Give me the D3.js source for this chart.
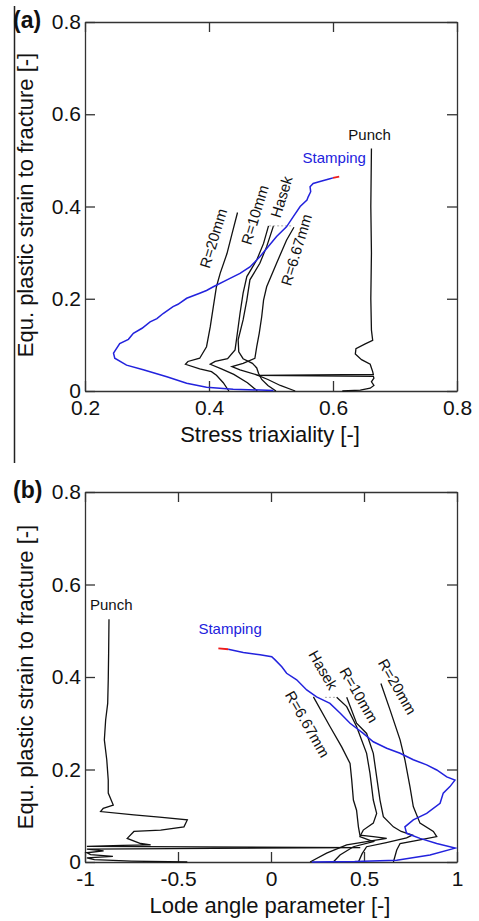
<!DOCTYPE html>
<html>
<head>
<meta charset="utf-8">
<script src="https://d3js.org/d3.v7.min.js"></script>
<style>
  body { margin: 0; background: #fff; }
  svg { display: block; font-family: "Liberation Sans", Arial, sans-serif; }
  .tick text { font-size: 21px; fill: #111; }
  .domain, .tick line { stroke: #333; stroke-width: 1.3px; }
  .curve { fill: none; stroke: #111; stroke-width: 1.3px; }
</style>
</head>
<body>
<svg id="chart" width="479" height="921"></svg>
<script>
// tick values
var strainTicks = [0, 0.2, 0.4, 0.6, 0.8];
var triaxTicks = [0.2, 0.4, 0.6, 0.8];
var lodeTicks = [-1, -0.5, 0, 0.5, 1];

// panel (a): [stress triaxiality, strain]
var stampingTriax = [[0.504,0.001],[0.439,0.004],[0.396,0.008],[0.364,0.017],[0.332,0.031],[0.294,0.046],
  [0.267,0.056],[0.248,0.071],[0.246,0.082],[0.256,0.103],[0.270,0.112],[0.278,0.125],[0.292,0.136],[0.305,0.150],
  [0.316,0.157],[0.326,0.168],[0.342,0.183],[0.350,0.188],[0.364,0.201],[0.385,0.212],[0.396,0.218],[0.407,0.226],
  [0.429,0.241],[0.450,0.255],[0.466,0.269],[0.482,0.291],[0.493,0.309],[0.509,0.335],[0.525,0.356],[0.536,0.378],
  [0.547,0.400],[0.558,0.414],[0.560,0.421],[0.564,0.432],[0.563,0.443],[0.568,0.450],[0.579,0.454],[0.595,0.460],[0.600,0.462]];
var stampingEndTriax = [[0.600,0.462],[0.610,0.4646]];
var punchTriax = [[0.615,0.0],[0.644,0.002],[0.660,0.006],[0.666,0.012],[0.662,0.020],[0.666,0.028],[0.665,0.032],
  [0.477,0.034],[0.665,0.036],[0.664,0.042],[0.662,0.050],[0.660,0.058],[0.646,0.068],[0.636,0.080],[0.637,0.092],
  [0.652,0.102],[0.664,0.110],[0.662,0.132],[0.661,0.200],[0.662,0.300],[0.661,0.400],[0.662,0.526]];
var r20Triax = [[0.432,0.0],[0.423,0.018],[0.412,0.034],[0.404,0.042],[0.385,0.048],[0.362,0.058],[0.366,0.064],
  [0.385,0.071],[0.396,0.096],[0.402,0.139],[0.407,0.183],[0.412,0.226],[0.418,0.255],[0.429,0.298],[0.437,0.340],[0.446,0.387]];
var r10Triax = [[0.478,0.0],[0.462,0.018],[0.440,0.036],[0.420,0.048],[0.402,0.058],[0.410,0.064],[0.430,0.070],
  [0.442,0.089],[0.445,0.118],[0.450,0.168],[0.455,0.212],[0.461,0.248],[0.477,0.284],[0.488,0.320],[0.496,0.358]];
var hasekTriax = [[0.508,0.0],[0.495,0.012],[0.485,0.025],[0.480,0.038],[0.477,0.050],[0.470,0.060],[0.455,0.070],
  [0.448,0.085],[0.447,0.111],[0.455,0.154],[0.461,0.197],[0.466,0.241],[0.482,0.277],[0.493,0.313],[0.504,0.358]];
var hasekTopTriax = [[0.497,0.358],[0.533,0.358]];
var r667Triax = [[0.539,0.0],[0.515,0.012],[0.495,0.025],[0.477,0.035],[0.450,0.046],[0.437,0.053],[0.455,0.060],
  [0.474,0.071],[0.477,0.096],[0.481,0.125],[0.485,0.161],[0.488,0.197],[0.493,0.226],[0.509,0.277],[0.525,0.327],[0.537,0.355]];

// panel (b): [Lode angle parameter, strain]
var stampingLode = [[0.22,0.0],[0.45,0.001],[0.676,0.004],[0.855,0.015],[0.99,0.030],[0.891,0.040],[0.801,0.051],
  [0.729,0.062],[0.720,0.076],[0.765,0.091],[0.837,0.105],[0.909,0.127],[0.926,0.149],[0.962,0.163],[0.989,0.177],
  [0.945,0.184],[0.891,0.199],[0.837,0.210],[0.765,0.221],[0.694,0.235],[0.622,0.246],[0.550,0.260],[0.496,0.278],
  [0.425,0.300],[0.371,0.322],[0.317,0.343],[0.245,0.357],[0.192,0.372],[0.138,0.394],[0.084,0.408],[0.058,0.422],
  [0.022,0.437],[0.004,0.444],[-0.059,0.448],[-0.149,0.453],[-0.230,0.460]];
var stampingEndLode = [[-0.230,0.460],[-0.283,0.462]];
var punchLode = [[-0.45,0.0],[-0.75,0.002],[-0.95,0.005],[-0.99,0.009],[-0.85,0.012],[-0.97,0.016],[-0.99,0.020],
  [-0.90,0.024],[-0.99,0.028],[0.48,0.031],[-0.99,0.034],[-0.80,0.036],[-0.647,0.037],[-0.701,0.040],[-0.773,0.051],
  [-0.737,0.066],[-0.593,0.069],[-0.468,0.076],[-0.450,0.091],[-0.600,0.097],[-0.737,0.102],[-0.916,0.109],
  [-0.902,0.116],[-0.848,0.123],[-0.875,0.149],[-0.875,0.177],[-0.883,0.221],[-0.896,0.264],[-0.889,0.307],
  [-0.878,0.343],[-0.875,0.394],[-0.873,0.450],[-0.871,0.525]];
var r20Lode = [[0.658,0.0],[0.676,0.026],[0.694,0.040],[0.801,0.048],[0.891,0.055],[0.873,0.066],[0.801,0.084],
  [0.765,0.120],[0.747,0.163],[0.720,0.221],[0.694,0.264],[0.640,0.329],[0.591,0.386]];
var r10Lode = [[0.47,0.0],[0.49,0.018],[0.514,0.033],[0.62,0.042],[0.729,0.052],[0.76,0.058],[0.70,0.066],
  [0.658,0.076],[0.604,0.098],[0.586,0.134],[0.568,0.184],[0.550,0.235],[0.514,0.278],[0.460,0.300],[0.407,0.356]];
var hasekLode = [[0.335,0.0],[0.371,0.015],[0.443,0.033],[0.550,0.044],[0.478,0.055],[0.496,0.069],[0.550,0.084],
  [0.568,0.105],[0.550,0.134],[0.532,0.192],[0.514,0.235],[0.460,0.293],[0.407,0.336],[0.353,0.356]];
var hasekTopLode = [[0.29,0.356],[0.353,0.356]];
var r667Lode = [[0.210,0.0],[0.299,0.019],[0.407,0.037],[0.514,0.044],[0.622,0.051],[0.550,0.055],[0.478,0.058],
  [0.470,0.076],[0.460,0.112],[0.443,0.134],[0.434,0.177],[0.425,0.213],[0.380,0.249],[0.317,0.293],[0.228,0.357]];

// curve labels: [text, x, strain, angle, colour]
var labelsTriax = [["Punch",0.659,0.544,0,"#111"],["Stamping",0.602,0.494,0,"#2222dd"],
  ["R=20mm",0.407,0.331,-73,"#111"],["R=10mm",0.474,0.382,-73,"#111"],
  ["Hasek",0.517,0.421,-73,"#111"],["R=6.67mm",0.541,0.306,-73,"#111"]];
var labelsLode = [["Punch",-0.859,0.545,0,"#111"],["Stamping",-0.220,0.493,0,"#2222dd"],
  ["Hasek",0.281,0.415,60,"#111"],["R=10mm",0.473,0.361,60,"#111"],
  ["R=20mm",0.679,0.379,60,"#111"],["R=6.67mm",0.196,0.298,60,"#111"]];

var svg = d3.select("#chart");

// thin border line at the left edge of panel (a)
svg.append("line").attr("x1", 14.5).attr("x2", 14.5).attr("y1", 6).attr("y2", 463)
  .attr("stroke", "#222").attr("stroke-width", 1.5);

function drawPanel(p) {
  var x = d3.scaleLinear().domain(p.xDomain).range([85, 457]);
  var y = d3.scaleLinear().domain([0, 0.8]).range([p.bottom, p.top]);
  var g = svg.append("g");
  var fmt = function(d) { return String(d); };

  g.append("g").attr("transform", "translate(0," + p.bottom + ")")
    .call(d3.axisBottom(x).tickValues(p.xTicks).tickFormat(fmt).tickSizeInner(-10).tickSizeOuter(0).tickPadding(9));
  g.append("g").attr("transform", "translate(0," + p.top + ")")
    .call(d3.axisTop(x).tickValues(p.xTicks).tickFormat("").tickSizeInner(-10).tickSizeOuter(0));
  g.append("g").attr("transform", "translate(85,0)")
    .call(d3.axisLeft(y).tickValues(strainTicks).tickFormat(fmt).tickSizeInner(-10).tickSizeOuter(0).tickPadding(4));
  g.append("g").attr("transform", "translate(457,0)")
    .call(d3.axisRight(y).tickValues(strainTicks).tickFormat("").tickSizeInner(-10).tickSizeOuter(0));
  g.selectAll(".tick text").attr("font-family", null);
  g.selectAll(".tick").filter(function(d) { return d === 0.2 && p.xDomain[0] === 0.2; });

  var line = d3.line().x(function(d) { return x(d[0]); }).y(function(d) { return y(d[1]); });

  p.curves.forEach(function(c) {
    g.append("path").datum(c).attr("class", "curve").attr("d", line);
  });
  g.append("path").datum(p.dotted).attr("d", line).attr("fill", "none")
    .attr("stroke", "#aaa").attr("stroke-width", 1).attr("stroke-dasharray", "2,2");
  g.append("path").datum(p.stamping).attr("d", line).attr("fill", "none")
    .attr("stroke", "#2222dd").attr("stroke-width", 1.5);
  g.append("path").datum(p.stampingEnd).attr("d", line).attr("fill", "none")
    .attr("stroke", "#ee1c1c").attr("stroke-width", 1.8);

  g.selectAll(".lbl").data(p.labels).enter().append("text")
    .attr("class", "lbl")
    .attr("transform", function(d) { return "translate(" + x(d[1]) + "," + y(d[2]) + ") rotate(" + d[3] + ")"; })
    .attr("text-anchor", "middle")
    .attr("dy", function(d) { return d[3] === 0 ? 0 : "0.35em"; })
    .attr("font-size", 15)
    .attr("fill", function(d) { return d[4]; })
    .text(function(d) { return d[0]; });

  g.append("text").attr("x", 270).attr("y", p.bottom + 51).attr("text-anchor", "middle")
    .attr("font-size", 22).attr("fill", "#111").text(p.xTitle);
  g.append("text").attr("transform", "translate(33," + p.yMid + ") rotate(-90)").attr("text-anchor", "middle")
    .attr("font-size", 22).attr("fill", "#111").text("Equ. plastic strain to fracture [-]");
  g.append("text").attr("x", 13).attr("y", p.top + 6).attr("font-size", 23).attr("font-weight", "bold")
    .attr("fill", "#111").text(p.tag);
}

drawPanel({
  top: 22, bottom: 391, yMid: 205, xDomain: [0.2, 0.8], xTicks: triaxTicks,
  xTitle: "Stress triaxiality [-]", tag: "(a)",
  curves: [punchTriax, r20Triax, r10Triax, hasekTriax, r667Triax],
  dotted: hasekTopTriax, stamping: stampingTriax, stampingEnd: stampingEndTriax, labels: labelsTriax
});
drawPanel({
  top: 492, bottom: 862, yMid: 677, xDomain: [-1, 1], xTicks: lodeTicks,
  xTitle: "Lode angle parameter [-]", tag: "(b)",
  curves: [punchLode, r20Lode, r10Lode, hasekLode, r667Lode],
  dotted: hasekTopLode, stamping: stampingLode, stampingEnd: stampingEndLode, labels: labelsLode
});
</script>
</body>
</html>
